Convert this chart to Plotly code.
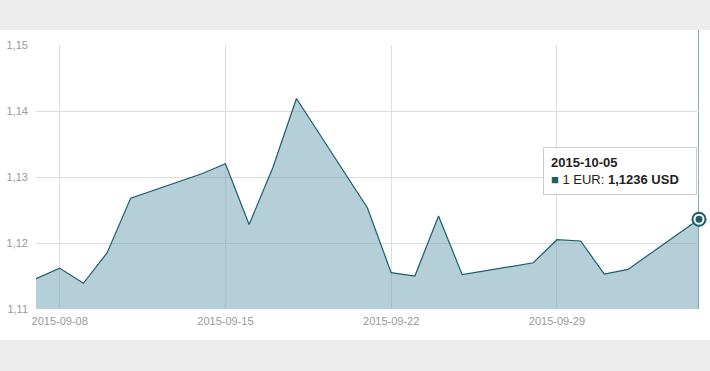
import plotly.graph_objects as go

dates = ["2015-09-07", "2015-09-08", "2015-09-09", "2015-09-10", "2015-09-11",
         "2015-09-14", "2015-09-15", "2015-09-16", "2015-09-17", "2015-09-18",
         "2015-09-21", "2015-09-22", "2015-09-23", "2015-09-24", "2015-09-25",
         "2015-09-28", "2015-09-29", "2015-09-30", "2015-10-01", "2015-10-02",
         "2015-10-05"]
values = [1.1146, 1.1162, 1.1139, 1.1185, 1.1268,
          1.1305, 1.1320, 1.1228, 1.1314, 1.1419,
          1.1253, 1.1155, 1.1150, 1.1241, 1.1152,
          1.1170, 1.1205, 1.1203, 1.1153, 1.1160,
          1.1236]
x_ticks = ["2015-09-08", "2015-09-15", "2015-09-22", "2015-09-29"]
y_ticks = [1.11, 1.12, 1.13, 1.14, 1.15]
hover_date = dates[-1]
hover_value = values[-1]

LINE = "#1d5c6b"
FONT = "Liberation Sans, Arial, sans-serif"

fig = go.Figure()
fig.add_trace(go.Scatter(
    x=dates, y=values, mode="lines",
    line=dict(color=LINE, width=1.2),
    fill="tozeroy", fillcolor="rgba(105,160,175,0.5)",
    hoverinfo="skip", showlegend=False))
fig.add_trace(go.Scatter(
    x=[hover_date], y=[hover_value], mode="markers", cliponaxis=False,
    marker=dict(size=15, color=LINE, line=dict(width=0)),
    hoverinfo="skip", showlegend=False))
fig.add_trace(go.Scatter(
    x=[hover_date], y=[hover_value], mode="markers", cliponaxis=False,
    marker=dict(size=9, color=LINE, line=dict(width=2, color="white")),
    hoverinfo="skip", showlegend=False))

shapes = [
    dict(type="rect", xref="paper", yref="paper", x0=-0.2, x1=1.2, y0=1.057, y1=1.25,
         fillcolor="#ececec", line=dict(width=0), layer="below"),
    dict(type="rect", xref="paper", yref="paper", x0=-0.2, x1=1.2, y0=-0.1174, y1=-0.3,
         fillcolor="#ececec", line=dict(width=0), layer="below"),
    dict(type="line", xref="x", yref="paper", x0=hover_date, x1=hover_date, y0=0, y1=1.057,
         line=dict(color=LINE, width=1), layer="below"),
]

fig.add_annotation(
    xref="paper", yref="paper", x=0.7647, y=0.6136, xanchor="left", yanchor="top",
    text=(f"<b>{hover_date}</b><br><span style='color:{LINE}'>■</span> 1 EUR: "
          f"<b>{hover_value:.4f}".replace(".", ",") + " USD</b>"),
    showarrow=False, align="left", bgcolor="white", bordercolor="#cccccc",
    borderwidth=1, borderpad=7, width=138, height=32,
    font=dict(family=FONT, size=13, color="#222222"))

fig.update_layout(
    width=710, height=371,
    margin=dict(l=36, r=11, t=45, b=62, autoexpand=False),
    paper_bgcolor="white", plot_bgcolor="white",
    separators=", ",
    font=dict(family=FONT, size=11, color="#999999"),
    shapes=shapes,
    xaxis=dict(type="date", range=[dates[0], dates[-1]], tickvals=x_ticks,
               tickformat="%Y-%m-%d", showgrid=True, gridcolor="#dddddd",
               zeroline=False, showline=False, ticks="", fixedrange=True,
               ticklabelstandoff=4, automargin=False,
               tickfont=dict(size=11, color="#999999")),
    yaxis=dict(range=[1.11, 1.15], tickvals=y_ticks, tickformat=".2f",
               showgrid=True, gridcolor="#dddddd", zeroline=False, showline=False,
               ticks="", ticklabelstandoff=7, automargin=False,
               tickfont=dict(size=11, color="#999999")),
)

fig.write_html("out.html")
